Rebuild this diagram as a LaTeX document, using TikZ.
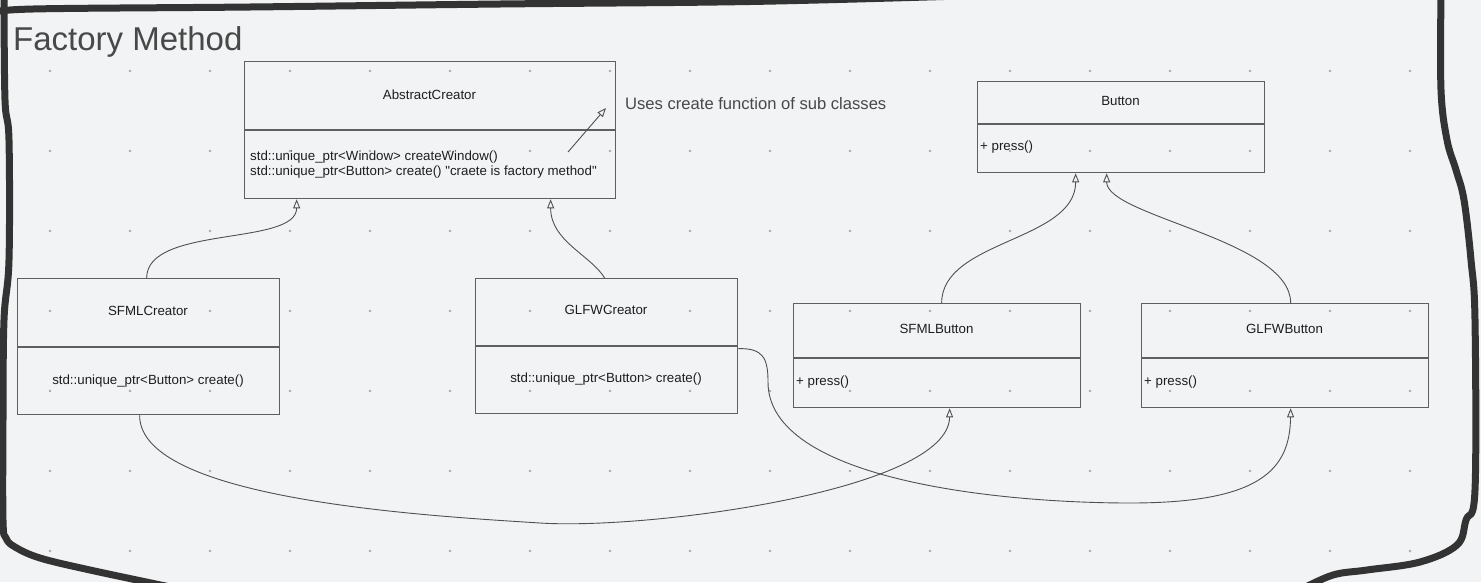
\documentclass[tikz,border=0pt]{standalone}
\usepackage{fontspec}
\setmainfont{Liberation Sans}[Ligatures=TeXOff]
\usetikzlibrary{arrows.meta}
\definecolor{bg}{RGB}{242,243,245}
\definecolor{dotc}{RGB}{168,170,175}
\definecolor{edgec}{RGB}{51,51,51}
\definecolor{boxc}{RGB}{95,95,95}
\definecolor{txtc}{RGB}{30,30,30}
\definecolor{ttlc}{RGB}{72,72,72}
\definecolor{connc}{RGB}{80,80,80}
\begin{document}
\begin{tikzpicture}[x=1pt,y=-1pt,
  umlbox/.style={draw=boxc, line width=1.3pt, rectangle, inner sep=0pt, anchor=north west},
  divider/.style={draw=boxc, line width=1.3pt},
  lbl/.style={font=\fontsize{13.3}{16}\selectfont, text=txtc, inner sep=0pt, anchor=base},
  lblw/.style={lbl, anchor=base west},
  gen/.style={draw=connc, line width=0.9pt, -{Triangle[open,length=9pt,width=7pt]}},
  frame/.style={draw=edgec, line width=7pt, line cap=round, line join=round}]

\fill[bg] (0,0) rectangle (1481,582);
\useasboundingbox (0,0) rectangle (1481,582);
\clip (0,0) rectangle (1481,582);

% grid dots
\foreach \i in {0,...,17}
  \foreach \j in {0,...,6}
    \fill[dotc] (50+80*\i, 71+80*\j) circle (1.3pt);

% hand-drawn frame
\draw[frame] plot[smooth, tension=0.6] coordinates {(-5,13) (33,9) (250,7) (500,4) (750,1.5) (960,-4)};
\draw[frame] plot[smooth, tension=0.6] coordinates {(4,-5) (5,100) (9,140) (9,260) (4,320) (3,420) (3,520) (6,538) (15,547) (40,558) (90,570) (175,588)};
\draw[frame] plot[smooth, tension=0.6] coordinates {(1441,-5) (1441,90) (1447,140) (1456,170) (1464,200) (1471,260) (1475,320) (1475,490) (1466,520) (1457,545) (1420,562) (1367,570) (1333,575) (1300,590)};

% title and note
\node[font=\fontsize{33}{40}\selectfont, text=ttlc, inner sep=0pt, anchor=base west] (title) at (13,50) {Factory Method};
\node[font=\fontsize{16.6}{20}\selectfont, text=ttlc, inner sep=0pt, anchor=base west] (note) at (625,109) {Uses create function of sub classes};

% boxes
\node[umlbox, minimum width=371pt, minimum height=137pt] (absc) at (244,61) {};
\draw[divider] (absc.west |- 0,130) -- (absc.east |- 0,130);
\node[lbl] (absct) at (429.5,99) {AbstractCreator};
\node[lblw] (absc1) at (250,160.5) {std::unique\_ptr<Window> createWindow()};
\node[lblw] (absc2) at (250,175.5) {std::unique\_ptr<Button> create() "craete is factory method"};

\node[umlbox, minimum width=287pt, minimum height=91pt] (btn) at (977,81) {};
\draw[divider] (btn.west |- 0,124) -- (btn.east |- 0,124);
\node[lbl] (btnt) at (1120.5,105.5) {Button};
\node[lblw] (btn1) at (980,150.5) {+ press()};

\node[umlbox, minimum width=262pt, minimum height=136pt] (sfmlc) at (17,278) {};
\draw[divider] (sfmlc.west |- 0,347) -- (sfmlc.east |- 0,347);
\node[lbl] (sfmlct) at (148,315.5) {SFMLCreator};
\node[lbl] (sfmlc1) at (148,384.5) {std::unique\_ptr<Button> create()};

\node[umlbox, minimum width=262pt, minimum height=135pt] (glfwc) at (475,278) {};
\draw[divider] (glfwc.west |- 0,346) -- (glfwc.east |- 0,346);
\node[lbl] (glfwct) at (606,314.5) {GLFWCreator};
\node[lbl] (glfwc1) at (606,382.5) {std::unique\_ptr<Button> create()};

\node[umlbox, minimum width=287pt, minimum height=104pt] (sfmlb) at (793,303) {};
\draw[divider] (sfmlb.west |- 0,358) -- (sfmlb.east |- 0,358);
\node[lbl] (sfmlbt) at (936.5,333.5) {SFMLButton};
\node[lblw] (sfmlb1) at (796,385.5) {+ press()};

\node[umlbox, minimum width=287pt, minimum height=104pt] (glfwb) at (1141,303) {};
\draw[divider] (glfwb.west |- 0,358) -- (glfwb.east |- 0,358);
\node[lbl] (glfwbt) at (1284.5,333.5) {GLFWButton};
\node[lblw] (glfwb1) at (1144,385.5) {+ press()};

% connectors
\coordinate (noteTail) at (568,152);
\coordinate (noteTip) at (606,108);
\draw[gen] (noteTail) -- (noteTip);

\draw[gen] ([xshift=-2pt]sfmlc.north) .. controls +(0,-53) and +(0,47) .. ([xshift=-133.5pt]absc.south);
\draw[gen] ([xshift=-2pt]glfwc.north) .. controls +(-14,-23) and +(0,42) .. ([xshift=120.5pt]absc.south);
\draw[gen] ([xshift=4.5pt]sfmlb.north) .. controls +(0,-63) and +(0,68) .. ([xshift=-45.5pt]btn.south);
\draw[gen] ([xshift=5.5pt]glfwb.north) .. controls +(0,-63) and +(0,43) .. ([xshift=-14.5pt]btn.south);

\draw[gen] ([xshift=-9pt]sfmlc.south) .. controls (139,500) and (430,516) .. (540,523)
   .. controls (650,530) and (949,490) .. ([xshift=12.5pt]sfmlb.south);
\draw[gen] ([yshift=-2.5pt]glfwc.east) .. controls (763,348) and (768,358) .. (768,382)
   .. controls (768,480) and (1000,503) .. (1130,503)
   .. controls (1260,503) and (1290,470) .. ([xshift=5.5pt]glfwb.south);
\end{tikzpicture}
\end{document}
